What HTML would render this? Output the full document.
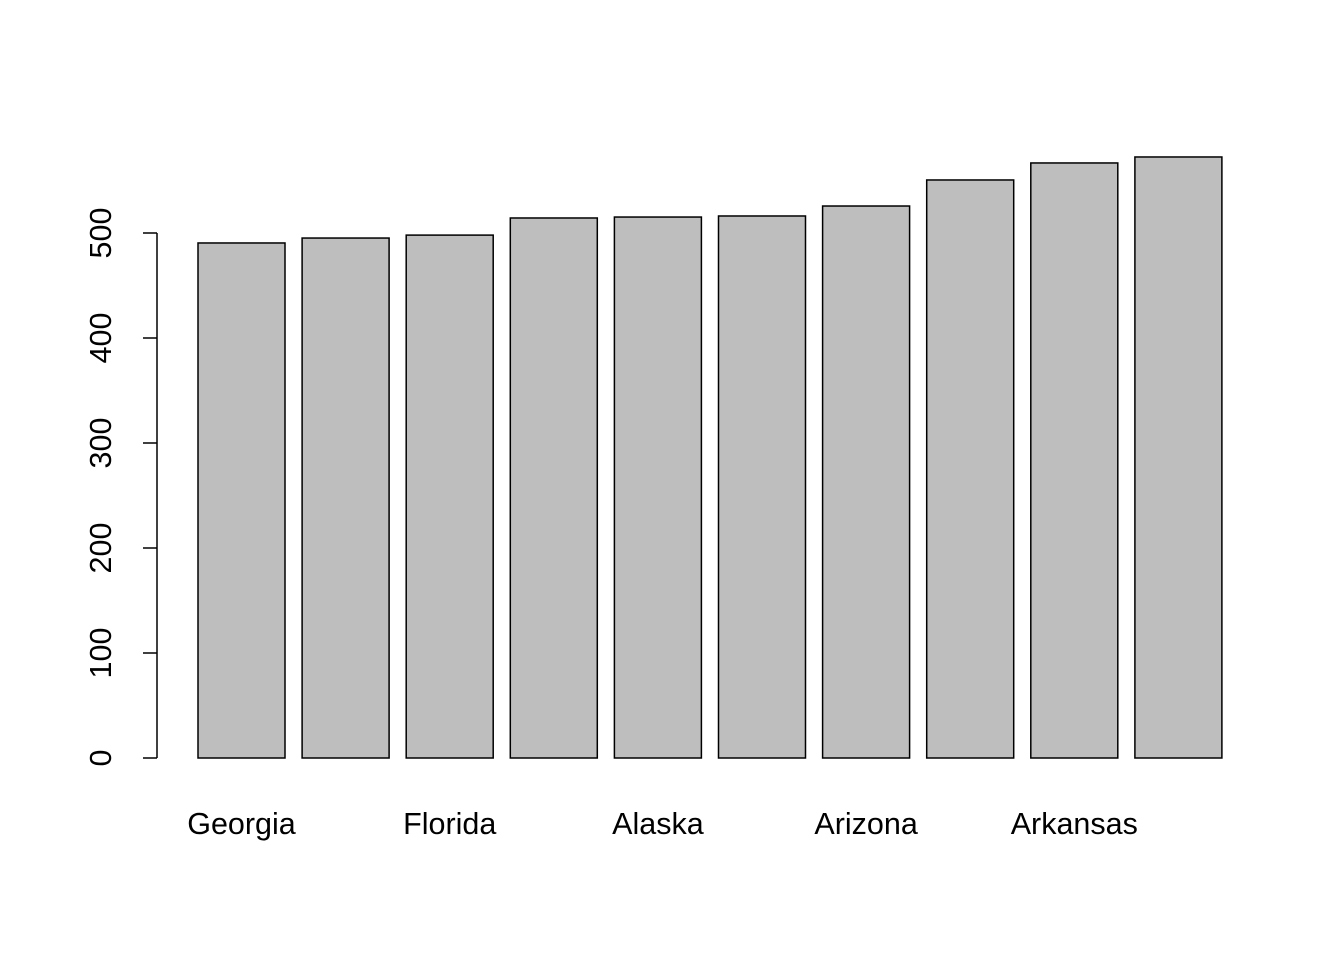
<!DOCTYPE html>
<html><head><meta charset="utf-8"><style>
html,body{margin:0;padding:0;background:#fff;}
svg{display:block;font-family:"Liberation Sans",Arial,sans-serif;}
</style></head><body>
<svg id="chart" width="1344" height="960" viewBox="0 0 1344 960" xmlns="http://www.w3.org/2000/svg"></svg>
<script>
const categories = ["Georgia","Delaware","Florida","Connecticut","Alaska","California","Arizona","Colorado","Arkansas","Alabama"];
const values = [490.5,495.2,498,514.3,515.2,516.2,525.7,550.5,566.7,572.4];
const yTicks = [0,100,200,300,400,500];
const shownLabels = [true,false,true,false,true,false,true,false,true,false];

const NS="http://www.w3.org/2000/svg";
const svg=document.getElementById('chart');
const y0=758, pxPerUnit=1.05;
function yScale(v){return y0 - v*pxPerUnit;}
const barX0=198, barStep=104.1, barW=87;
function xScale(i){return barX0 + i*barStep;}
function mk(tag,attrs){const e=document.createElementNS(NS,tag);for(const k in attrs)e.setAttribute(k,attrs[k]);svg.appendChild(e);return e;}

values.forEach((v,i)=>{
  const r=mk('rect',{x:xScale(i),y:yScale(v),width:barW,height:y0-yScale(v),fill:'#bebebe',stroke:'#000','stroke-width':1.5});
  
  
  if(shownLabels[i]){
    const t=mk('text',{x:xScale(i)+barW/2,y:834,'text-anchor':'middle','font-size':30.5,fill:'#000'});
    t.textContent=categories[i];
    
    
  }
});
const axis=mk('line',{x1:157,x2:157,y1:yScale(yTicks[yTicks.length-1]),y2:yScale(0),stroke:'#000','stroke-width':1.5});


yTicks.forEach(t=>{
  const y=yScale(t);
  const l=mk('line',{x1:143,x2:157,y1:y,y2:y,stroke:'#000','stroke-width':1.5});
  
  
  const tx=mk('text',{x:0,y:0,'text-anchor':'middle','font-size':30.5,fill:'#000',transform:`translate(111,${y}) rotate(-90)`});
  tx.textContent=t;
  
  
});
</script>
</body></html>
